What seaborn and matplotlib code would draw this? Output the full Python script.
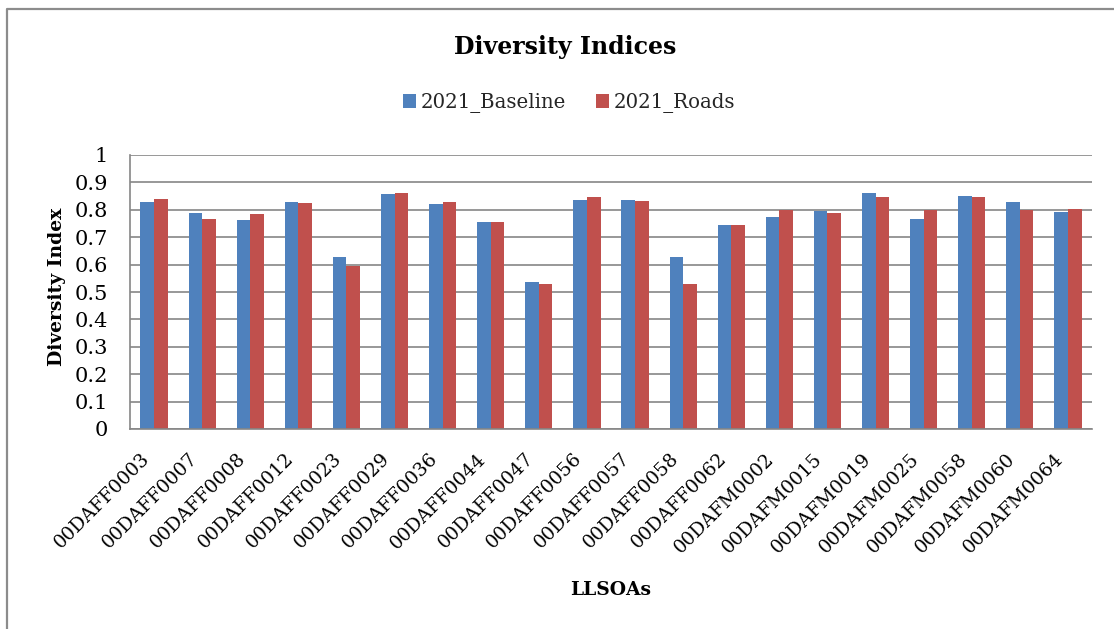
import matplotlib
matplotlib.use("Agg")
import matplotlib.pyplot as plt
from matplotlib.lines import Line2D
from matplotlib.transforms import ScaledTranslation
import pandas as pd
import seaborn as sns

# LLSOA codes on the category axis
llsoas = [
    "00DAFF0003", "00DAFF0007", "00DAFF0008", "00DAFF0012", "00DAFF0023",
    "00DAFF0029", "00DAFF0036", "00DAFF0044", "00DAFF0047", "00DAFF0056",
    "00DAFF0057", "00DAFF0058", "00DAFF0062", "00DAFM0002", "00DAFM0015",
    "00DAFM0019", "00DAFM0025", "00DAFM0058", "00DAFM0060", "00DAFM0064",
]

# Diversity index per LLSOA for each scenario
baseline_2021 = [
    0.828, 0.789, 0.762, 0.828, 0.629, 0.857, 0.820, 0.755, 0.538, 0.837,
    0.834, 0.627, 0.745, 0.773, 0.796, 0.860, 0.765, 0.850, 0.827, 0.793,
]
roads_2021 = [
    0.838, 0.766, 0.784, 0.824, 0.596, 0.863, 0.828, 0.755, 0.528, 0.846,
    0.833, 0.530, 0.745, 0.798, 0.788, 0.846, 0.798, 0.845, 0.799, 0.804,
]

series_names = ["2021_Baseline", "2021_Roads"]
series_colors = ["#4F81BD", "#C0504D"]
y_ticks = [0, 0.1, 0.2, 0.3, 0.4, 0.5, 0.6, 0.7, 0.8, 0.9, 1]
y_tick_labels = ["0", "0.1", "0.2", "0.3", "0.4", "0.5", "0.6", "0.7", "0.8", "0.9", "1"]

df = pd.concat([
    pd.DataFrame({"LLSOA": llsoas, "Index": baseline_2021, "Series": series_names[0]}),
    pd.DataFrame({"LLSOA": llsoas, "Index": roads_2021, "Series": series_names[1]}),
], ignore_index=True)

sns.set_theme(style="white")
plt.rcParams["font.family"] = ["DejaVu Serif"]

W, H = 1114, 629
fig = plt.figure(figsize=(W / 100, H / 100), dpi=100)
ax = fig.add_axes([130 / W, 1 - 429 / H, (1092 - 130) / W, (429 - 155) / H])

grid_grey = "#868686"

sns.barplot(
    data=df, x="LLSOA", y="Index", hue="Series", order=llsoas,
    hue_order=series_names, palette=series_colors, saturation=1,
    width=0.565, gap=0, edgecolor="none", linewidth=0, ax=ax,
)

handles, labels = ax.get_legend_handles_labels()
if ax.get_legend() is not None:
    ax.get_legend().remove()

ax.set_xlim(-0.5, len(llsoas) - 0.5)
ax.set_ylim(0, 1)
ax.set_yticks(y_ticks)
ax.set_yticklabels(y_tick_labels)
ax.set_axisbelow(True)
ax.yaxis.grid(True, color=grid_grey, linewidth=1.2)
ax.xaxis.grid(False)

for side in ("top", "right"):
    ax.spines[side].set_visible(False)
for side in ("left", "bottom"):
    ax.spines[side].set_visible(True)
    ax.spines[side].set_color(grid_grey)
    ax.spines[side].set_linewidth(1.2)

ax.tick_params(axis="y", length=0, pad=16, labelsize=15, labelcolor="black")
ax.tick_params(axis="x", length=0, pad=15, labelsize=13.6, labelcolor="black")
shift_left = ScaledTranslation(-14 / 100, 0, fig.dpi_scale_trans)
for lab in ax.get_xticklabels():
    lab.set_rotation(45)
    lab.set_ha("right")
    lab.set_va("top")
    lab.set_rotation_mode("anchor")
    lab.set_transform(lab.get_transform() + shift_left)

ax.set_xlabel("LLSOAs", fontsize=13.5, fontweight="bold", color="black")
ax.xaxis.label.set_va("center")
ax.xaxis.set_label_coords(0.5, (429 - 590) / 274)
ax.set_ylabel("Diversity Index", fontsize=13.5, fontweight="bold", color="black")
ax.yaxis.label.set_va("center")
ax.yaxis.set_label_coords((57 - 130) / 962, (429 - 287) / 274)

fig.text(565 / W, 1 - 47 / H, "Diversity Indices", ha="center", va="center",
         fontsize=17, fontweight="bold", color="black")

fig.legend(
    handles, labels, loc="center", bbox_to_anchor=(569 / W, 1 - 103 / H),
    ncol=2, frameon=False, fontsize=14.2, handlelength=0.66, handleheight=0.66,
    handletextpad=0.25, columnspacing=1.5, borderaxespad=0,
)

# chart frame along the left and top edges
fig.add_artist(Line2D([7 / W, 7 / W, 1.0], [0.0, 1 - 9 / H, 1 - 9 / H],
                      transform=fig.transFigure, color="#8c8c8c", linewidth=1.6))

fig.savefig("out.png", dpi=100, facecolor="white")
